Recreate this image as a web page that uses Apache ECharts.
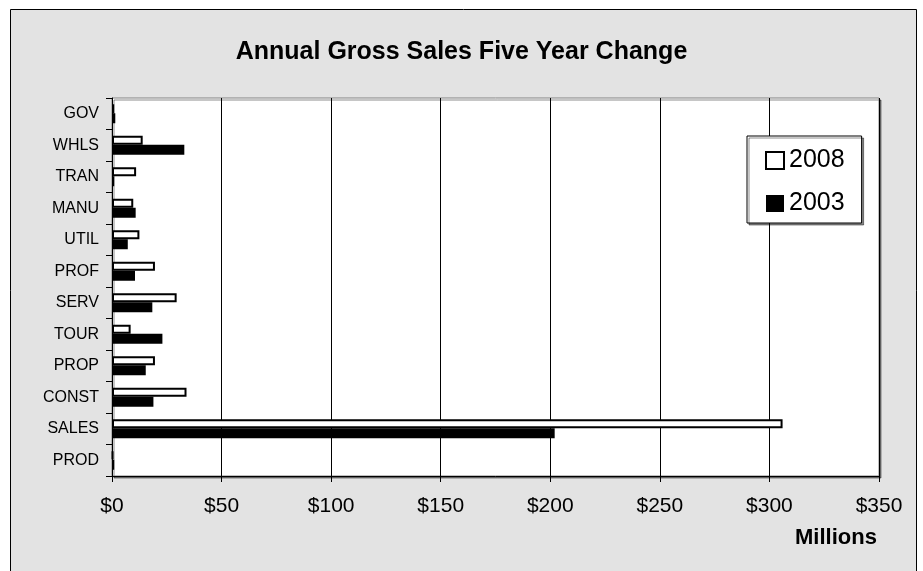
<!DOCTYPE html>
<html>
<head>
<meta charset="utf-8">
<script src="https://cdn.jsdelivr.net/npm/echarts@6/dist/echarts.min.js"></script>
<style>
  html, body { margin: 0; padding: 0; background: #ffffff; }
  #chart { width: 923px; height: 571px; }
</style>
</head>
<body>
<div id="chart"></div>
<script>
// categories top to bottom, as shown
const categories = ["GOV", "WHLS", "TRAN", "MANU", "UTIL", "PROF", "SERV", "TOUR", "PROP", "CONST", "SALES", "PROD"];
// millions of dollars
const sales2008 = [1, 14, 11, 9.7, 12.5, 19.6, 29.5, 8.5, 19.6, 34, 306, 0.5];
const sales2003 = [1.5, 33, 1, 10.8, 7.2, 10.5, 18.4, 23, 15.4, 18.9, 202, 1];
const xTicks = [0, 50, 100, 150, 200, 250, 300, 350];

const font = "'Liberation Sans', Arial, sans-serif";

const chart = echarts.init(document.getElementById("chart"));

const option = {
  backgroundColor: "#ffffff",
  animation: false,
  textStyle: { fontFamily: font, color: "#000" },
  graphic: [
    {
      type: "rect",
      z: -10,
      silent: true,
      shape: { x: 10.5, y: 9.5, width: 906, height: 600 },
      style: { fill: "#e3e3e3", stroke: "#000", lineWidth: 1 }
    },
    {
      type: "text",
      left: 795,
      top: 527,
      style: { text: "Millions", font: "bold 22px " + font, fill: "#000" }
    }
  ],
  title: {
    text: "Annual Gross Sales Five Year Change",
    left: "center",
    top: 40,
    padding: 0,
    textStyle: { fontFamily: font, fontSize: 25, fontWeight: "bold", color: "#000" }
  },
  legend: {
    orient: "vertical",
    left: 747,
    top: 136,
    width: 116,
    padding: [12, 17, 7, 18],
    itemGap: 18,
    itemWidth: 18,
    itemHeight: 17,
    icon: "rect",
    backgroundColor: "#ffffff",
    borderColor: "#000",
    borderWidth: 1,
    shadowColor: "rgba(0,0,0,0.45)",
    shadowOffsetX: 2,
    shadowOffsetY: 2,
    textStyle: { fontFamily: font, fontSize: 25, color: "#000" },
    data: ["2008", "2003"]
  },
  grid: {
    left: 112,
    right: 44,
    top: 98,
    bottom: 95,
    show: true,
    backgroundColor: "#ffffff",
    borderColor: "#808080",
    borderWidth: 1,
    shadowColor: "rgba(0,0,0,0.45)",
    shadowOffsetX: 2,
    shadowOffsetY: 2
  },
  xAxis: {
    type: "value",
    min: xTicks[0],
    max: xTicks[xTicks.length - 1],
    interval: 50,
    axisLine: { show: true, lineStyle: { color: "#000" } },
    axisTick: { show: true, length: 6, lineStyle: { color: "#000" } },
    axisLabel: {
      margin: 20,
      fontSize: 21,
      color: "#000",
      fontFamily: font,
      formatter: v => "$" + v
    },
    splitLine: { show: true, lineStyle: { color: "#000", width: 1 } }
  },
  yAxis: {
    type: "category",
    inverse: true,
    data: categories,
    axisLine: { show: true, lineStyle: { color: "#000" } },
    axisTick: { show: true, length: 6, lineStyle: { color: "#000" } },
    axisLabel: { margin: 13, fontSize: 16, color: "#000", fontFamily: font },
    splitLine: { show: false }
  },
  series: [
    {
      name: "2008",
      type: "bar",
      data: sales2008,
      barWidth: 9,
      barGap: "0%",
      itemStyle: { color: "#ffffff", borderColor: "#000", borderWidth: 2 }
    },
    {
      name: "2003",
      type: "bar",
      data: sales2003,
      barWidth: 10,
      barGap: "0%",
      itemStyle: { color: "#000000", borderColor: "#000", borderWidth: 0 }
    }
  ]
};

chart.setOption(option);
</script>
</body>
</html>
